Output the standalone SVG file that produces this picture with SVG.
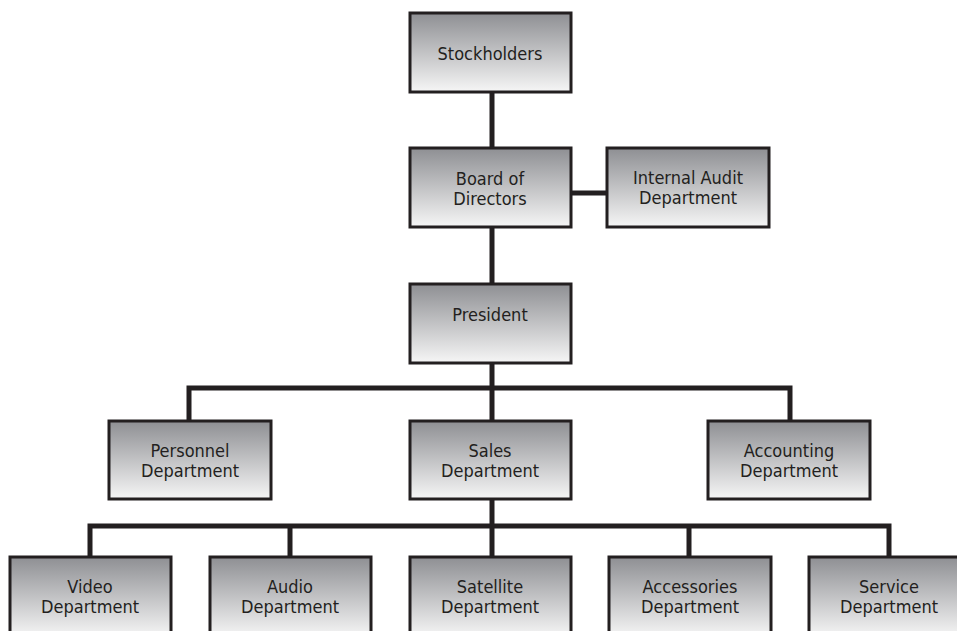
<svg xmlns="http://www.w3.org/2000/svg" width="957" height="631" viewBox="0 0 957 631">
<defs>
<linearGradient id="g" x1="0" y1="0" x2="0" y2="1">
<stop offset="0" stop-color="#8e8f93"/>
<stop offset="1" stop-color="#f6f6f6"/>
</linearGradient>
<style>
.box{fill:url(#g);stroke:#231f20;stroke-width:3}
.t{font-family:"DejaVu Sans Condensed","DejaVu Sans",sans-serif;font-size:18px;fill:#231f20;text-anchor:middle}
.c{fill:none;stroke:#231f20;stroke-width:5}
</style>
</defs>
<rect width="957" height="631" fill="#ffffff"/>
<g id="connectors">
<path class="c" d="M492 92V148M492 227V284M492 363V421M571 193H607"/>
<path class="c" d="M189 421V388H790V421"/>
<path class="c" d="M492 499V557M90 557V526H889V557M290 526V557M689 526V557"/>
</g>
<g id="stockholders"><rect class="box" x="410" y="13" width="161" height="79"/><text class="t" x="490" y="60">Stockholders</text></g>
<g id="board"><rect class="box" x="410" y="148" width="161" height="79"/><text class="t" x="490" y="185">Board of</text><text class="t" x="490" y="205">Directors</text></g>
<g id="audit"><rect class="box" x="607" y="148" width="162" height="79"/><text class="t" x="688" y="184">Internal Audit</text><text class="t" x="688" y="204">Department</text></g>
<g id="president"><rect class="box" x="410" y="284" width="161" height="79"/><text class="t" x="490" y="321">President</text></g>
<g id="personnel"><rect class="box" x="109" y="421" width="162" height="78"/><text class="t" x="190" y="457">Personnel</text><text class="t" x="190" y="477">Department</text></g>
<g id="sales"><rect class="box" x="410" y="421" width="161" height="78"/><text class="t" x="490" y="457">Sales</text><text class="t" x="490" y="477">Department</text></g>
<g id="accounting"><rect class="box" x="708" y="421" width="162" height="78"/><text class="t" x="789" y="457">Accounting</text><text class="t" x="789" y="477">Department</text></g>
<g id="video"><rect class="box" x="10" y="557" width="161" height="80"/><text class="t" x="90" y="593">Video</text><text class="t" x="90" y="613">Department</text></g>
<g id="audio"><rect class="box" x="210" y="557" width="161" height="80"/><text class="t" x="290" y="593">Audio</text><text class="t" x="290" y="613">Department</text></g>
<g id="satellite"><rect class="box" x="410" y="557" width="161" height="80"/><text class="t" x="490" y="593">Satellite</text><text class="t" x="490" y="613">Department</text></g>
<g id="accessories"><rect class="box" x="609" y="557" width="162" height="80"/><text class="t" x="690" y="593">Accessories</text><text class="t" x="690" y="613">Department</text></g>
<g id="service"><rect class="box" x="809" y="557" width="161" height="80"/><text class="t" x="889" y="593">Service</text><text class="t" x="889" y="613">Department</text></g>
</svg>
